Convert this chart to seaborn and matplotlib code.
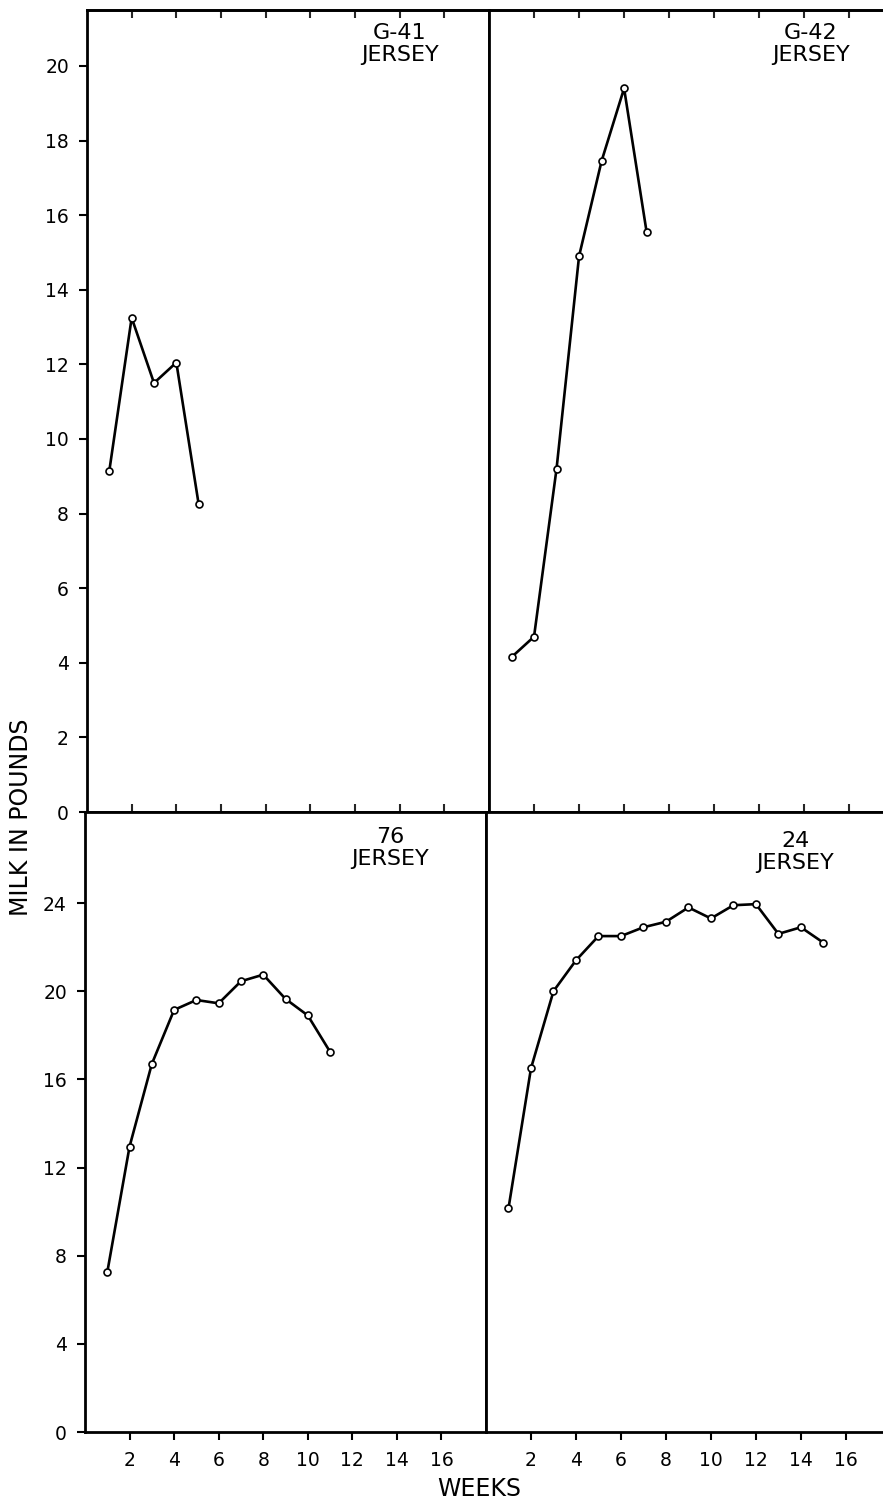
import numpy as np
import pandas as pd
import matplotlib
matplotlib.use("Agg")
import matplotlib.pyplot as plt
import seaborn as sns

# weekly milk yield (pounds)
weeks_g41 = [1, 2, 3, 4, 5]
milk_g41 = [9.15, 13.25, 11.5, 12.05, 8.25]

weeks_g42 = [1, 2, 3, 4, 5, 6, 7]
milk_g42 = [4.15, 4.7, 9.2, 14.9, 17.45, 19.4, 15.55]

weeks_76 = [1, 2, 3, 4, 5, 6, 7, 8, 9, 10, 11]
milk_76 = [7.25, 12.95, 16.7, 19.15, 19.6, 19.45, 20.45, 20.75, 19.65, 18.9, 17.25]

weeks_24 = [1, 2, 3, 4, 5, 6, 7, 8, 9, 10, 11, 12, 13, 14, 15]
milk_24 = [10.15, 16.5, 20.0, 21.4, 22.5, 22.5, 22.9, 23.15, 23.8, 23.3,
           23.9, 23.95, 22.6, 22.9, 22.2]

cow_labels = ["G-41\nJERSEY", "G-42\nJERSEY", "76\nJERSEY", "24\nJERSEY"]
week_ticks = [2, 4, 6, 8, 10, 12, 14, 16]
top_yticks = [0, 2, 4, 6, 8, 10, 12, 14, 16, 18, 20]
bottom_yticks = [0, 4, 8, 12, 16, 20, 24]

sns.set_theme(style="ticks")
plt.rcParams["font.family"] = ["DejaVu Sans"]
plt.rcParams["axes.linewidth"] = 2.0

W, H = 883, 1499
fig = plt.figure(figsize=(W / 100, H / 100), dpi=100)


def box(x0, y0, x1, y1):
    # pixel box (top-left origin) -> figure fraction rect
    return [x0 / W, 1 - y1 / H, (x1 - x0) / W, (y1 - y0) / H]


ax_tl = fig.add_axes(box(87, 10, 489, 812))
ax_tr = fig.add_axes(box(489, 10, 883, 812))
ax_bl = fig.add_axes(box(85, 812, 486, 1432))
ax_br = fig.add_axes(box(486, 812, 883, 1432))

panels = [
    (ax_tl, weeks_g41, milk_g41),
    (ax_tr, weeks_g42, milk_g42),
    (ax_bl, weeks_76, milk_76),
    (ax_br, weeks_24, milk_24),
]

for ax, wk, mk in panels:
    df = pd.DataFrame({"week": wk, "milk": mk})
    sns.lineplot(data=df, x="week", y="milk", ax=ax, color="black",
                 linewidth=1.9, marker="o", markersize=5,
                 markerfacecolor="white", markeredgecolor="black",
                 markeredgewidth=1.2, estimator=None, sort=False)
    ax.set_xlabel("")
    ax.set_ylabel("")
    ax.set_facecolor("white")
    for s in ax.spines.values():
        s.set_color("black")
        s.set_linewidth(2.0)

for ax in (ax_tl, ax_bl):
    ax.set_xlim(0, 18)
ax_tr.set_xlim(0, 17.5)
ax_br.set_xlim(0, 17.65)
for ax in (ax_tr, ax_br):
    ax.spines["right"].set_visible(False)
for ax in (ax_tl, ax_tr):
    ax.set_ylim(0, 21.5)
for ax in (ax_bl, ax_br):
    ax.set_ylim(0, 28.13)

tick_font = dict(labelsize=13.5, colors="black")

# top row: inward ticks on the upper edge, crossing ticks on the middle line
for ax in (ax_tl, ax_tr):
    ax.set_xticks(week_ticks)
    ax.tick_params(axis="x", bottom=True, labelbottom=False,
                   direction="inout", length=12, width=1.5)
    sec = ax.secondary_xaxis("top")
    sec.set_xticks(week_ticks)
    sec.tick_params(axis="x", direction="in", length=6, width=1.5,
                    labeltop=False)
    sec.spines["top"].set_linewidth(2.0)

# bottom row: outward ticks with labels
for ax in (ax_bl, ax_br):
    ax.set_xticks(week_ticks)
    ax.set_xticklabels([str(t) for t in week_ticks])
    ax.tick_params(axis="x", bottom=True, top=False, direction="out",
                   length=6, width=1.5, pad=8, **tick_font)

ax_tl.set_yticks(top_yticks)
ax_bl.set_yticks(bottom_yticks)
for ax in (ax_tl, ax_bl):
    ax.tick_params(axis="y", left=True, direction="out", length=6,
                   width=1.5, pad=7, **tick_font)
for ax in (ax_tr, ax_br):
    ax.set_yticks([])
    ax.tick_params(axis="y", left=False, labelleft=False)

label_pos = [(14.0, 21.15), (14.3, 21.15), (13.7, 27.45), (13.75, 27.25)]
for (ax, _, _), lab, (tx, ty) in zip(panels, cow_labels, label_pos):
    ax.text(tx, ty, lab, ha="center", va="top", fontsize=16,
            multialignment="center", linespacing=1.1, color="black")

fig.text(21 / W, 1 - 817 / H, "MILK IN POUNDS", rotation=90, ha="center",
         va="center", fontsize=17, color="black")
fig.text(479 / W, 1 - 1489 / H, "WEEKS", ha="center", va="center",
         fontsize=17, color="black")

fig.savefig("out.png", dpi=100, facecolor="white")
